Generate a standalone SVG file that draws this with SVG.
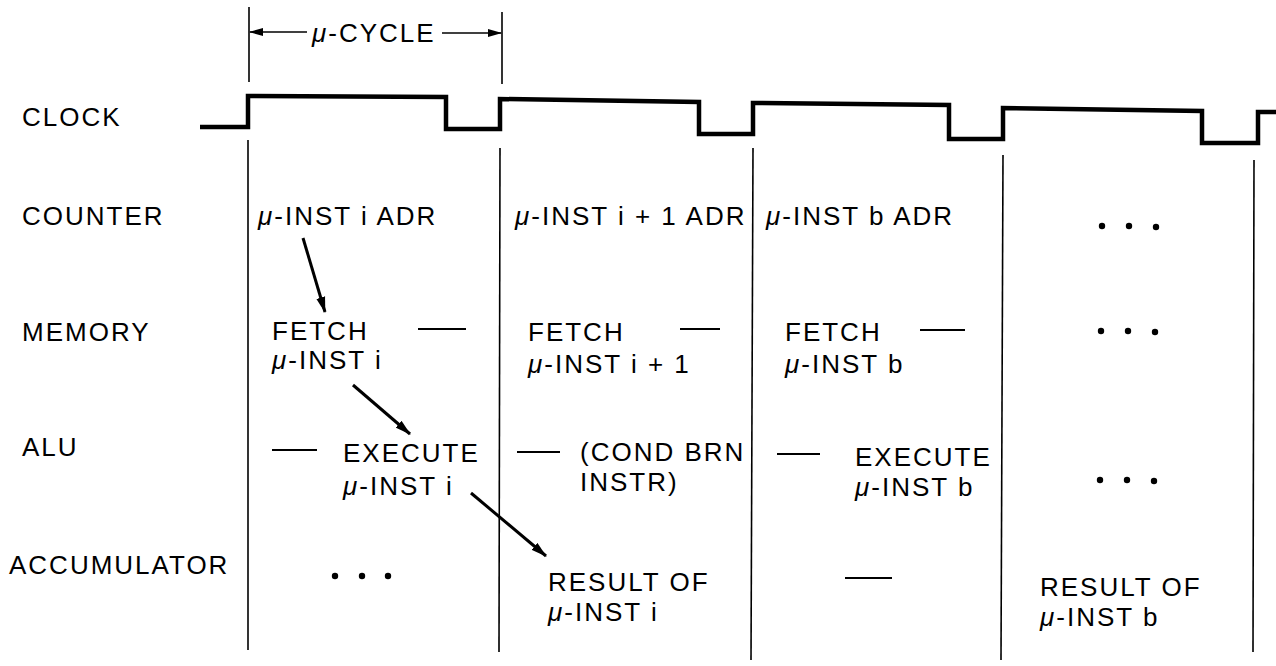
<svg xmlns="http://www.w3.org/2000/svg" width="1276" height="666" viewBox="0 0 1276 666">
<defs>
<style>
text{font-family:"Liberation Sans",Arial,sans-serif;font-size:26px;fill:#000;letter-spacing:2px}
.mu{font-style:italic}
.ln{stroke:#000;stroke-width:1.6;fill:none}
.clk{stroke:#000;stroke-width:4.5;fill:none;stroke-linejoin:miter}
.dash{stroke:#000;stroke-width:2}
.arr{stroke:#000;stroke-width:3;fill:none}
</style>
<marker id="ah" viewBox="0 0 16 10" refX="15" refY="5" markerWidth="16" markerHeight="10" orient="auto" markerUnits="userSpaceOnUse">
<path d="M0,0.5 L16,5 L0,9.5 Z" fill="#000"/>
</marker>
<marker id="ahs" viewBox="0 0 14 8" refX="13" refY="4" markerWidth="14" markerHeight="8" orient="auto" markerUnits="userSpaceOnUse">
<path d="M0,0 L14,4 L0,8 Z" fill="#000"/>
</marker>
</defs>
<rect width="1276" height="666" fill="#fff"/>
<g id="labels">
<text x="22" y="126">CLOCK</text>
<text x="22" y="225">COUNTER</text>
<text x="22" y="341">MEMORY</text>
<text x="22" y="456">ALU</text>
<text x="9" y="574">ACCUMULATOR</text>
</g>
<g id="cycle">
<line class="ln" x1="249" y1="7" x2="249" y2="82"/>
<line class="ln" x1="502" y1="12" x2="502" y2="84"/>
<line class="ln" x1="307" y1="32" x2="250" y2="32" marker-end="url(#ahs)"/>
<line class="ln" x1="442" y1="33" x2="501" y2="33" marker-end="url(#ahs)"/>
<text x="312" y="42"><tspan class="mu">μ</tspan>-CYCLE</text>
</g>
<g id="clock">
<polyline class="clk" points="200,127 248,127 248,96 446,97 446,129 500,129 500,99 699,102 699,134 753,134 753,103 949,105 949,139 1003,139 1003,108 1202,111 1202,143 1258,143 1258,112 1276,112"/>
</g>
<g id="grid">
<line class="ln" x1="248" y1="140" x2="248" y2="650"/>
<line class="ln" x1="500" y1="148" x2="499" y2="652"/>
<line class="ln" x1="753" y1="148" x2="751" y2="660"/>
<line class="ln" x1="1003" y1="155" x2="1001" y2="660"/>
<line class="ln" x1="1254" y1="160" x2="1253" y2="652"/>
</g>
<g id="col1">
<text x="258" y="225"><tspan class="mu">μ</tspan>-INST i ADR</text>
<text x="272" y="340">FETCH</text>
<text x="272" y="369"><tspan class="mu">μ</tspan>-INST i</text>
<line class="dash" x1="418" y1="329" x2="466" y2="329"/>
<line class="dash" x1="272" y1="450" x2="317" y2="450"/>
<text x="343" y="462">EXECUTE</text>
<text x="343" y="495"><tspan class="mu">μ</tspan>-INST i</text>
<circle cx="335" cy="576" r="3.2"/><circle cx="362" cy="576" r="3.2"/><circle cx="388" cy="576" r="3.2"/>
</g>
<g id="col2">
<text x="515" y="225"><tspan class="mu">μ</tspan>-INST i + 1 ADR</text>
<text x="528" y="341">FETCH</text>
<text x="528" y="373"><tspan class="mu">μ</tspan>-INST i + 1</text>
<line class="dash" x1="680" y1="329" x2="720" y2="329"/>
<line class="dash" x1="517" y1="452" x2="560" y2="452"/>
<text x="580" y="461">(COND BRN</text>
<text x="580" y="491">INSTR)</text>
<text x="548" y="591">RESULT OF</text>
<text x="548" y="621"><tspan class="mu">μ</tspan>-INST i</text>
</g>
<g id="col3">
<text x="766" y="225"><tspan class="mu">μ</tspan>-INST b ADR</text>
<text x="785" y="341">FETCH</text>
<text x="785" y="373"><tspan class="mu">μ</tspan>-INST b</text>
<line class="dash" x1="920" y1="330" x2="965" y2="330"/>
<line class="dash" x1="777" y1="454" x2="820" y2="454"/>
<text x="855" y="466">EXECUTE</text>
<text x="855" y="496"><tspan class="mu">μ</tspan>-INST b</text>
<line class="dash" x1="845" y1="578" x2="892" y2="578"/>
</g>
<g id="col4">
<circle cx="1102" cy="226" r="3.2"/><circle cx="1129" cy="226" r="3.2"/><circle cx="1156" cy="227" r="3.2"/>
<circle cx="1101" cy="331" r="3.2"/><circle cx="1128" cy="331" r="3.2"/><circle cx="1155" cy="332" r="3.2"/>
<circle cx="1100" cy="480" r="3.2"/><circle cx="1127" cy="480" r="3.2"/><circle cx="1154" cy="481" r="3.2"/>
<text x="1040" y="596">RESULT OF</text>
<text x="1040" y="626"><tspan class="mu">μ</tspan>-INST b</text>
</g>
<g id="connectors">
<line class="arr" x1="303" y1="238" x2="325" y2="312" marker-end="url(#ah)"/>
<line class="arr" x1="353" y1="385" x2="410" y2="434" marker-end="url(#ah)"/>
<line class="arr" x1="471" y1="493" x2="546" y2="556" marker-end="url(#ah)"/>
</g>
</svg>
